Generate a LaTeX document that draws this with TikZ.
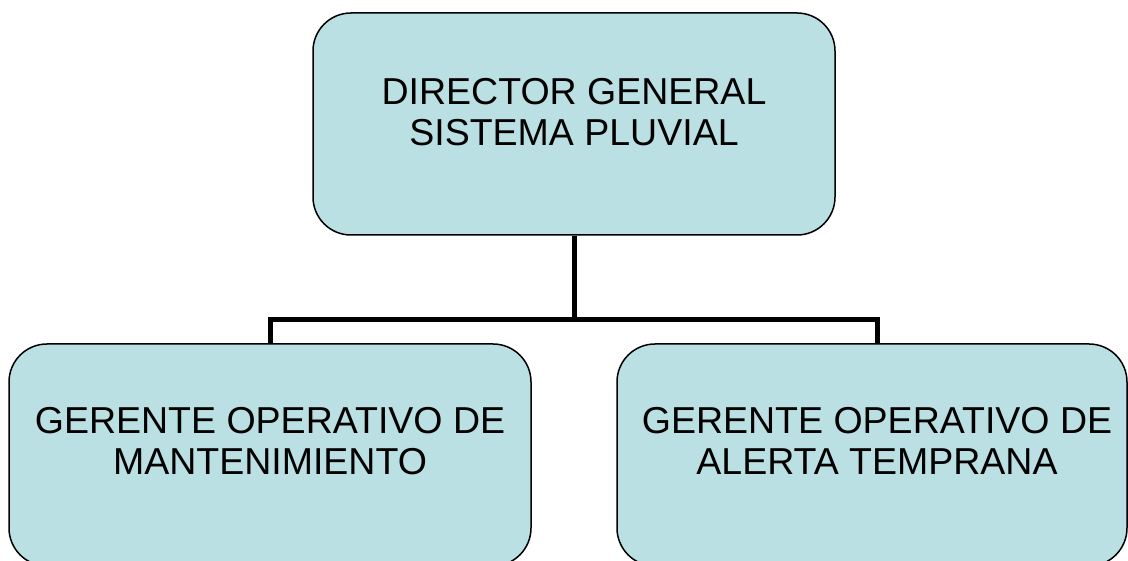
\documentclass[tikz,border=0pt]{standalone}
\usepackage{fontspec}
\setmainfont{Liberation Sans}
\definecolor{boxfill}{RGB}{186,224,227}
\begin{document}
\begin{tikzpicture}[x=1pt,y=1pt,
  orgbox/.style={draw=black, line width=1.5pt, fill=boxfill, rounded corners=38pt, inner sep=0pt, minimum width=522pt, minimum height=222pt},
  orgtext/.style={anchor=base, align=center, inner sep=0pt, font=\fontsize{37.5}{41}\selectfont},
  link/.style={draw=black, line width=5pt}]
\useasboundingbox (0,0) rectangle (1128,-561);
\clip (0,0) rectangle (1128,-561);
\node[orgbox] (top) at (574,-124) {};
\node[orgbox] (left) at (270,-455) {};
\node[orgbox, minimum width=510pt] (right) at (872,-455) {};
\node[orgtext] (toptext) at (574,-145.5) {DIRECTOR GENERAL\\SISTEMA PLUVIAL};
\node[orgtext] (lefttext) at (270,-474.5) {GERENTE OPERATIVO DE\\MANTENIMIENTO};
\node[orgtext] (righttext) at (877,-474.5) {GERENTE OPERATIVO DE\\ALERTA TEMPRANA};
\coordinate (j) at (574,-320);
\draw[link] (top.south) -- (j);
\draw[link] (left.north) |- (j) -| ([xshift=5pt]right.north);
\end{tikzpicture}
\end{document}
